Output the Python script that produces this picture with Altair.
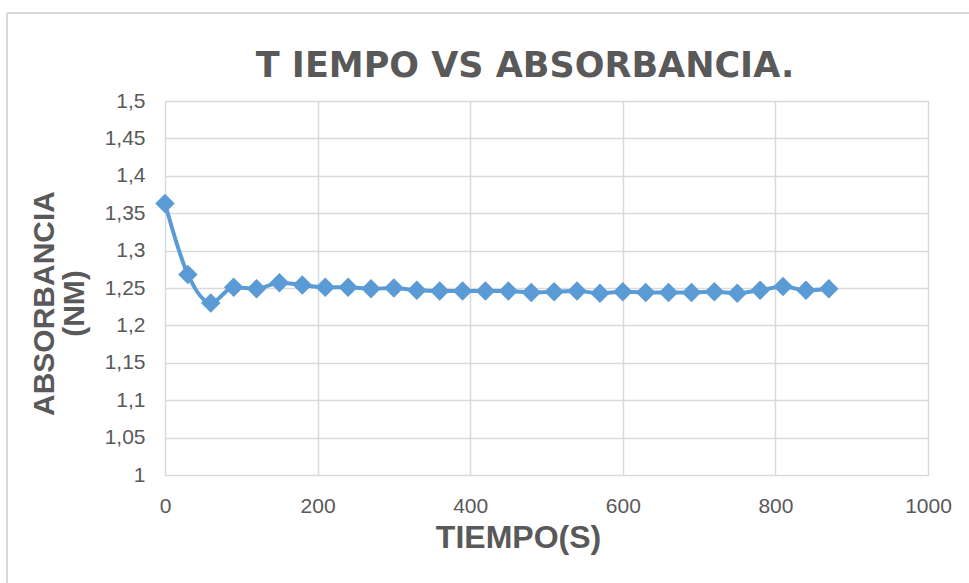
import altair as alt
import pandas as pd

tiempo = [0, 30, 60, 90, 120, 150, 180, 210, 240, 270, 300, 330, 360, 390, 420,
          450, 480, 510, 540, 570, 600, 630, 660, 690, 720, 750, 780, 810, 840, 870]
absorbancia = [1.363, 1.268, 1.230, 1.251, 1.249, 1.257, 1.254, 1.251, 1.251, 1.249,
               1.250, 1.247, 1.246, 1.246, 1.246, 1.246, 1.244, 1.245, 1.246, 1.243,
               1.245, 1.244, 1.244, 1.244, 1.245, 1.243, 1.247, 1.252, 1.247, 1.249]
x_ticks = [0, 200, 400, 600, 800, 1000]
y_ticks = [1.0, 1.05, 1.1, 1.15, 1.2, 1.25, 1.3, 1.35, 1.4, 1.45, 1.5]
TITLE = "T IEMPO VS ABSORBANCIA."

df = pd.DataFrame({"t": tiempo, "a": absorbancia})

GRAY = "#595959"
GRID = "#d9d9d9"
BLUE = "#5b9bd5"

x = alt.X("t:Q", scale=alt.Scale(domain=[0, 1000], nice=False),
          axis=alt.Axis(values=x_ticks, title="TIEMPO(S)", ticks=False, domain=False, format="d",
                        labelPadding=20, labelFontSize=21, labelColor=GRAY,
                        labelFont="Liberation Sans", labelFlush=False,
                        titleFont="Liberation Sans", titleFontSize=32, titleFontWeight="bold",
                        titleColor=GRAY, titleX=353, titleY=72, titleBaseline="alphabetic",
                        titleAlign="center", gridColor=GRID, gridWidth=1.5))
y = alt.Y("a:Q", scale=alt.Scale(domain=[1, 1.5], nice=False, zero=False),
          axis=alt.Axis(values=y_ticks, title=["ABSORBANCIA", "(NM)"], ticks=False, domain=False,
                        labelPadding=20, labelFontSize=21, labelColor=GRAY,
                        labelFont="Liberation Sans",
                        labelExpr="replace(format(datum.value, '.2~f'), '.', ',')",
                        titleFont="Liberation Sans", titleFontSize=30, titleFontWeight="bold",
                        titleColor=GRAY, titleAngle=-90, titleX=-112, titleY=202,
                        titleBaseline="alphabetic", titleAlign="center", titleLineHeight=30,
                        gridColor=GRID, gridWidth=1.5))

line = alt.Chart(df).mark_line(color=BLUE, strokeWidth=4, interpolate="monotone").encode(x=x, y=y)
pts = alt.Chart(df).mark_point(shape="diamond", filled=True, opacity=1, color=BLUE, size=380).encode(x=x, y=y)

frame_left = alt.Chart(df).mark_rule(color=GRID, strokeWidth=1.5).encode(
    x=alt.value(-158), y=alt.value(-88), y2=alt.value(490))
frame_top = alt.Chart(df).mark_rule(color=GRID, strokeWidth=1.5).encode(
    x=alt.value(-158), x2=alt.value(810), y=alt.value(-88))

title = alt.Chart(df.head(1)).mark_text(
    font="DejaVu Sans", fontSize=35, fontWeight="bold", color=GRAY,
    align="center", baseline="alphabetic").encode(
    x=alt.value(360), y=alt.value(-24), text=alt.value(TITLE))

chart = alt.layer(frame_left, frame_top, line, pts, title).properties(
    width=763, height=374,
    autosize=alt.AutoSizeParams(type="none"),
    padding={"left": 165, "top": 101, "right": 41, "bottom": 108},
).configure_view(stroke=GRID, strokeWidth=1.5).configure(background="white")

chart.save("out.html", embed_options={"renderer": "svg", "actions": False})
